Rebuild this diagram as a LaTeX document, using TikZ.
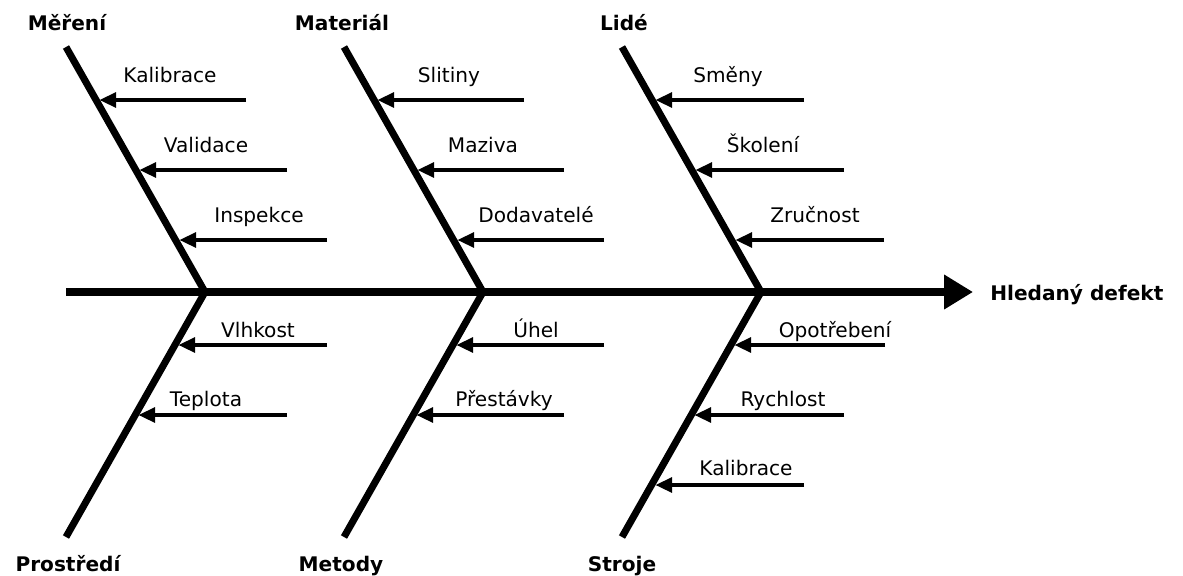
\documentclass[tikz,border=0pt]{standalone}
\usepackage{fontspec}
\setmainfont{DejaVu Sans}
\usetikzlibrary{arrows.meta}

\begin{document}
\begin{tikzpicture}[x=0.025cm, y=-0.025cm]
        \tikzstyle{kost}=[line width=5pt]
        \tikzstyle{pricina}=[line width=3.1pt, -{Triangle[length=0.42cm, width=0.36cm]}, shorten >=0.08cm]
        \tikzstyle{skupina}=[font=\fontsize{14.3}{17}\selectfont\bfseries, anchor=base, inner sep=0pt]
        \tikzstyle{popis}=[font=\fontsize{14.3}{17}\selectfont, anchor=base, inner sep=0pt]

        \useasboundingbox (0,0) rectangle (1183,575);

        % hlavni osa
        \coordinate (A) at (66,292);
        \coordinate (B) at (973,292);
        \draw[kost, -{Triangle[length=0.72cm, width=0.82cm]}] (A) -- (B);
        \node[skupina, anchor=base west] (defekt) at (990,300) {Hledaný defekt};

        % kosti
        \coordinate (J1) at (205,292);
        \coordinate (J2) at (483,292);
        \coordinate (J3) at (761,292);
        \coordinate (H1) at (66,47);
        \coordinate (H2) at (344,47);
        \coordinate (H3) at (622,47);
        \coordinate (D1) at (66,537);
        \coordinate (D2) at (344,537);
        \coordinate (D3) at (622,537);

        \draw[kost] (H1) -- (J1) -- (D1);
        \draw[kost] (H2) -- (J2) -- (D2);
        \draw[kost] (H3) -- (J3) -- (D3);

        \node[skupina] (mereni) at (67,30) {Měření};
        \node[skupina] (material) at (342,30) {Materiál};
        \node[skupina] (lide) at (624,30) {Lidé};
        \node[skupina] (prostredi) at (68,571) {Prostředí};
        \node[skupina] (metody) at (341,571) {Metody};
        \node[skupina] (stroje) at (622,571) {Stroje};

        % Měření
        \coordinate (M1) at (96,100);   \coordinate (M1x) at (246,100);
        \coordinate (M2) at (136,170);  \coordinate (M2x) at (287,170);
        \coordinate (M3) at (176,240);  \coordinate (M3x) at (327,240);
        \draw[pricina] (M1x) -- (M1);
        \draw[pricina] (M2x) -- (M2);
        \draw[pricina] (M3x) -- (M3);
        \node[popis] (kalibrace) at (170,82) {Kalibrace};
        \node[popis] (validace) at (206,152) {Validace};
        \node[popis] (inspekce) at (259,222) {Inspekce};

        % Materiál
        \coordinate (T1) at (374,100);  \coordinate (T1x) at (524,100);
        \coordinate (T2) at (414,170);  \coordinate (T2x) at (564,170);
        \coordinate (T3) at (454,240);  \coordinate (T3x) at (604,240);
        \draw[pricina] (T1x) -- (T1);
        \draw[pricina] (T2x) -- (T2);
        \draw[pricina] (T3x) -- (T3);
        \node[popis] (slitiny) at (449,82) {Slitiny};
        \node[popis] (maziva) at (483,152) {Maziva};
        \node[popis] (dodavatele) at (536,222) {Dodavatelé};

        % Lidé
        \coordinate (L1) at (652,100);  \coordinate (L1x) at (804,100);
        \coordinate (L2) at (692,170);  \coordinate (L2x) at (844,170);
        \coordinate (L3) at (732,240);  \coordinate (L3x) at (884,240);
        \draw[pricina] (L1x) -- (L1);
        \draw[pricina] (L2x) -- (L2);
        \draw[pricina] (L3x) -- (L3);
        \node[popis] (smeny) at (728,82) {Směny};
        \node[popis] (skoleni) at (763,152) {Školení};
        \node[popis] (zrucnost) at (815,222) {Zručnost};

        % Prostředí
        \coordinate (P1) at (175,345);  \coordinate (P1x) at (327,345);
        \coordinate (P2) at (135,415);  \coordinate (P2x) at (287,415);
        \draw[pricina] (P1x) -- (P1);
        \draw[pricina] (P2x) -- (P2);
        \node[popis] (vlhkost) at (258,337) {Vlhkost};
        \node[popis] (teplota) at (206,406) {Teplota};

        % Metody
        \coordinate (E1) at (453,345);  \coordinate (E1x) at (604,345);
        \coordinate (E2) at (413,415);  \coordinate (E2x) at (564,415);
        \draw[pricina] (E1x) -- (E1);
        \draw[pricina] (E2x) -- (E2);
        \node[popis] (uhel) at (536,337) {Úhel};
        \node[popis] (prestavky) at (504,406) {Přestávky};

        % Stroje
        \coordinate (S1) at (731,345);  \coordinate (S1x) at (885,345);
        \coordinate (S2) at (691,415);  \coordinate (S2x) at (844,415);
        \coordinate (S3) at (652,485);  \coordinate (S3x) at (804,485);
        \draw[pricina] (S1x) -- (S1);
        \draw[pricina] (S2x) -- (S2);
        \draw[pricina] (S3x) -- (S3);
        \node[popis] (opotrebeni) at (835,337) {Opotřebení};
        \node[popis] (rychlost) at (783,406) {Rychlost};
        \node[popis] (kalibrace2) at (746,475) {Kalibrace};
\end{tikzpicture}
\end{document}
